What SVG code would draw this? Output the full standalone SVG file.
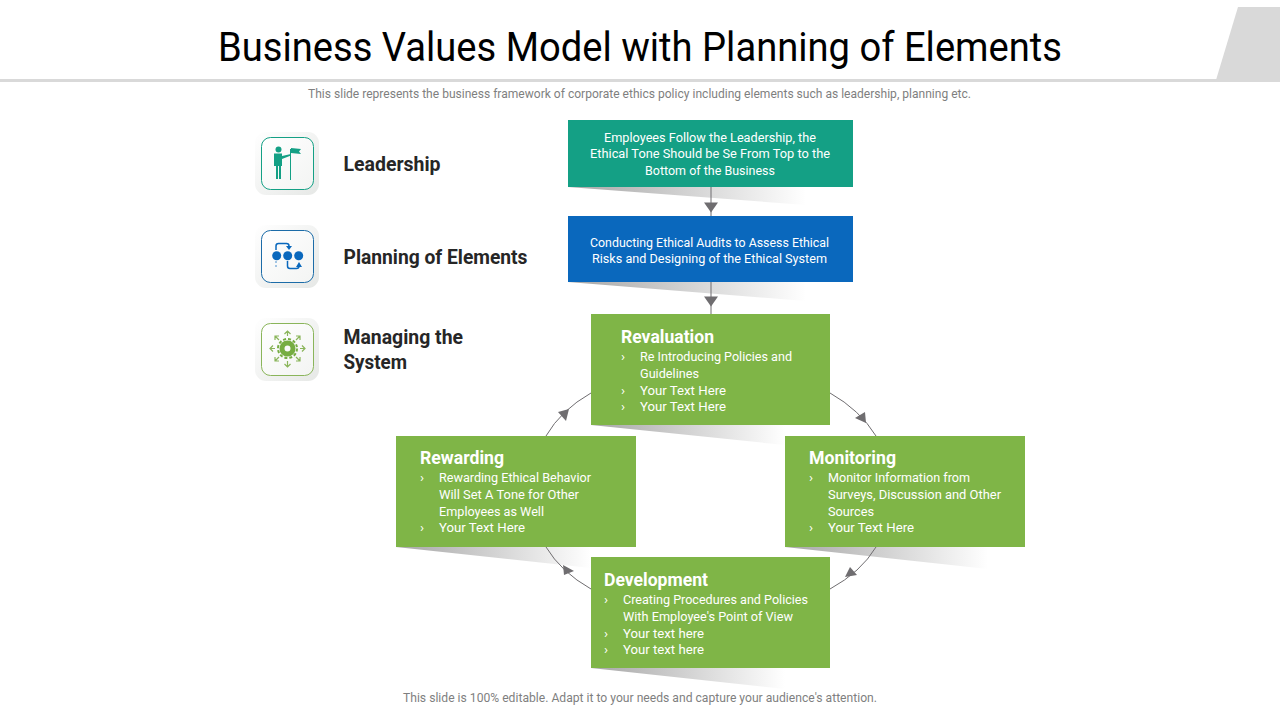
<svg xmlns="http://www.w3.org/2000/svg" width="1280" height="720" viewBox="0 0 1280 720">
<style>
text{font-family:Roboto,"Liberation Sans",sans-serif}
.t{fill:#fff;font-size:13.4px}
.c{text-anchor:middle}
.h{fill:#fff;font-size:19px;font-weight:700}
.l{fill:#262626;font-size:20.5px;font-weight:700}
.s{fill:#7f7f7f;font-size:12.4px;text-anchor:middle}
.g{fill:#7fb547}
.e{fill:none;stroke:#6f6d70;stroke-width:1}
.a{fill:#6f6d70}
</style>
<defs>
<linearGradient id="sh" x1="0" y1="0" x2="1" y2="0"><stop offset="0" stop-color="#a6a6a6"/><stop offset="1" stop-color="#fff"/></linearGradient>
<linearGradient id="ic" x1="0" y1="0" x2="1" y2="1"><stop offset="0" stop-color="#fff"/><stop offset="1" stop-color="#e6e8e6"/></linearGradient>
<linearGradient id="in" x1="0" y1="0" x2="1" y2="1"><stop offset="0" stop-color="#fff"/><stop offset="1" stop-color="#f3f4f3"/></linearGradient>
</defs>
<rect width="1280" height="720" fill="#fff"/>
<g id="header">
<rect x="0" y="79" width="1280" height="3" fill="#d9d9d9"/>
<polygon points="1238,7 1280,7 1280,80 1216,80" fill="#d9d9d9"/>
<text x="640" y="61" font-size="40.700" fill="#000" text-anchor="middle" textLength="844" lengthAdjust="spacingAndGlyphs">Business Values Model with Planning of Elements</text>
<text class="s" x="639.500" y="98" textLength="663" lengthAdjust="spacingAndGlyphs">This slide represents the business framework of corporate ethics policy including elements such as leadership, planning etc.</text>
</g>
<g id="shadows">
<polygon points="568,187 806,187 806,205" fill="url(#sh)"/>
<polygon points="568,282 806,282 806,301" fill="url(#sh)"/>
<polygon points="591,425 785,425 785,445" fill="url(#sh)"/>
<polygon points="396,547 591,547 591,568" fill="url(#sh)"/>
<polygon points="785,547 988,547 988,569" fill="url(#sh)"/>
<polygon points="591,668 785,668 785,689" fill="url(#sh)"/>
</g>
<g id="connectors">
<path class="e" d="M711 187V216M711 282V314"/>
<polygon class="a" points="704,202.500 718,202.500 711,212.500"/>
<polygon class="a" points="704,296.500 718,296.500 711,306.500"/>
<path class="e" d="M591 393Q561 410 546 436"/>
<polygon class="a" points="558,412 569,409 566,421"/>
<path class="e" d="M830 393Q860 410 876 436"/>
<polygon class="a" points="855,418 865,412 866,423"/>
<path class="e" d="M876 547Q861 572 830 589"/>
<polygon class="a" points="845,577 857,575 850,567"/>
<path class="e" d="M546 547Q561 572 591 589"/>
<polygon class="a" points="563,565 564,575 574,571"/>
</g>
<g id="leadership">
<rect x="255" y="132" width="64" height="63" rx="11" fill="url(#ic)"/>
<rect x="261.500" y="137.500" width="52" height="52" rx="9" fill="url(#in)" stroke="#14a085"/>
<circle cx="278.500" cy="149.500" r="3" fill="#14a085"/>
<path d="M274 153.500H282V156L291 154V155.500L282 159V166H281V179H279V166H278V179H276V166H274Z" fill="#14a085"/>
<path d="M290.500 149V180" stroke="#14a085" fill="none"/>
<polygon points="291,148 301,149 299,151.500 301,154 291,153" fill="#14a085"/>
<text class="l" x="343.500" y="171" textLength="97" lengthAdjust="spacingAndGlyphs">Leadership</text>
</g>
<g id="planning">
<rect x="255" y="225" width="64" height="63" rx="11" fill="url(#ic)"/>
<rect x="261.500" y="230.500" width="52" height="52" rx="9" fill="url(#in)" stroke="#1c6ca8"/>
<g fill="#0a68bd"><circle cx="276.700" cy="255.700" r="4.500"/><circle cx="287.700" cy="255.700" r="4.500"/><circle cx="298.700" cy="255.700" r="4.500"/>
<polygon points="286,246 292,246 289,250"/><polygon points="296,267 302,267 299,262"/><circle cx="276" cy="262" r=".7"/><circle cx="276" cy="266" r=".7"/></g>
<path d="M276 250V246Q276 243.500 278.500 243.500H286.500Q289 243.500 289 246M287.500 261V266Q287.500 268.500 290 268.500H296.500Q299 268.500 299 266" fill="none" stroke="#0a68bd" stroke-width="1.500"/>
<text class="l" x="343.500" y="264" textLength="184" lengthAdjust="spacingAndGlyphs">Planning of Elements</text>
</g>
<g id="managing">
<rect x="255" y="318" width="64" height="63" rx="11" fill="url(#ic)"/>
<rect x="261.500" y="323.500" width="52" height="52" rx="9" fill="url(#in)" stroke="#8ab55a"/>
<circle cx="287.500" cy="348.500" r="5.500" fill="none" stroke="#76ad42" stroke-width="5"/>
<circle cx="287.500" cy="348.500" r="9.500" fill="none" stroke="#76ad42" stroke-width="2" stroke-dasharray="3 2"/>
<path d="M287.500 336V331M284.500 334L287.500 331L290.500 334M287.500 361V367M284.500 364L287.500 367L290.500 364M275 348.500H270M273 345.500L270 348.500L273 351.500M300 348.500H305M302 345.500L305 348.500L302 351.500M279 340L275 336M275 340V336H279M296 340L300 336M296 336H300V340M279 357L275 361M275 357V361H279M296 357L300 361M300 357V361H296" fill="none" stroke="#8ab55a" stroke-width="1.200"/>
<text class="l" x="343.500" y="344" textLength="119.500" lengthAdjust="spacingAndGlyphs">Managing the</text>
<text class="l" x="343.500" y="369" textLength="63.500" lengthAdjust="spacingAndGlyphs">System</text>
</g>
<g id="box-employees">
<rect x="568" y="120" width="285" height="67" fill="#14a085"/>
<text class="t c" x="710" y="142" textLength="212" lengthAdjust="spacingAndGlyphs">Employees Follow the Leadership, the</text>
<text class="t c" x="710" y="158" textLength="240" lengthAdjust="spacingAndGlyphs">Ethical Tone Should be Se From Top to the</text>
<text class="t c" x="710" y="175" textLength="130" lengthAdjust="spacingAndGlyphs">Bottom of the Business</text>
</g>
<g id="box-audits">
<rect x="568" y="216" width="285" height="66" fill="#0a68bd"/>
<text class="t c" x="709.500" y="247" textLength="239" lengthAdjust="spacingAndGlyphs">Conducting Ethical Audits to Assess Ethical</text>
<text class="t c" x="709.500" y="263" textLength="235" lengthAdjust="spacingAndGlyphs">Risks and Designing of the Ethical System</text>
</g>
<g id="revaluation">
<rect class="g" x="591" y="314" width="239" height="111"/>
<text class="h" x="621" y="343" textLength="93" lengthAdjust="spacingAndGlyphs">Revaluation</text>
<text class="t" x="621" y="361">›</text>
<text class="t" x="640" y="361" textLength="152" lengthAdjust="spacingAndGlyphs">Re Introducing Policies and</text>
<text class="t" x="640" y="378" textLength="59" lengthAdjust="spacingAndGlyphs">Guidelines</text>
<text class="t" x="621" y="395">›</text>
<text class="t" x="640" y="395" textLength="86" lengthAdjust="spacingAndGlyphs">Your Text Here</text>
<text class="t" x="621" y="411">›</text>
<text class="t" x="640" y="411" textLength="86" lengthAdjust="spacingAndGlyphs">Your Text Here</text>
</g>
<g id="rewarding">
<rect class="g" x="396" y="436" width="240" height="111"/>
<text class="h" x="420" y="464" textLength="84" lengthAdjust="spacingAndGlyphs">Rewarding</text>
<text class="t" x="420" y="482">›</text>
<text class="t" x="439" y="482" textLength="152" lengthAdjust="spacingAndGlyphs">Rewarding Ethical Behavior</text>
<text class="t" x="439" y="499" textLength="140" lengthAdjust="spacingAndGlyphs">Will Set A Tone for Other</text>
<text class="t" x="439" y="516" textLength="105" lengthAdjust="spacingAndGlyphs">Employees as Well</text>
<text class="t" x="420" y="532">›</text>
<text class="t" x="439" y="532" textLength="86" lengthAdjust="spacingAndGlyphs">Your Text Here</text>
</g>
<g id="monitoring">
<rect class="g" x="785" y="436" width="240" height="111"/>
<text class="h" x="809" y="464" textLength="87" lengthAdjust="spacingAndGlyphs">Monitoring</text>
<text class="t" x="809" y="482">›</text>
<text class="t" x="828" y="482" textLength="142" lengthAdjust="spacingAndGlyphs">Monitor Information from</text>
<text class="t" x="828" y="499" textLength="173" lengthAdjust="spacingAndGlyphs">Surveys, Discussion and Other</text>
<text class="t" x="828" y="516" textLength="46" lengthAdjust="spacingAndGlyphs">Sources</text>
<text class="t" x="809" y="532">›</text>
<text class="t" x="828" y="532" textLength="86" lengthAdjust="spacingAndGlyphs">Your Text Here</text>
</g>
<g id="development">
<rect class="g" x="591" y="557" width="239" height="111"/>
<text class="h" x="604" y="586" textLength="104" lengthAdjust="spacingAndGlyphs">Development</text>
<text class="t" x="604" y="604">›</text>
<text class="t" x="623" y="604" textLength="185" lengthAdjust="spacingAndGlyphs">Creating Procedures and Policies</text>
<text class="t" x="623" y="621" textLength="170" lengthAdjust="spacingAndGlyphs">With Employee's Point of View</text>
<text class="t" x="604" y="638">›</text>
<text class="t" x="623" y="638" textLength="81" lengthAdjust="spacingAndGlyphs">Your text here</text>
<text class="t" x="604" y="654">›</text>
<text class="t" x="623" y="654" textLength="81" lengthAdjust="spacingAndGlyphs">Your text here</text>
</g>
<text class="s" x="640" y="702" textLength="474" lengthAdjust="spacingAndGlyphs">This slide is 100% editable. Adapt it to your needs and capture your audience's attention.</text>
</svg>
